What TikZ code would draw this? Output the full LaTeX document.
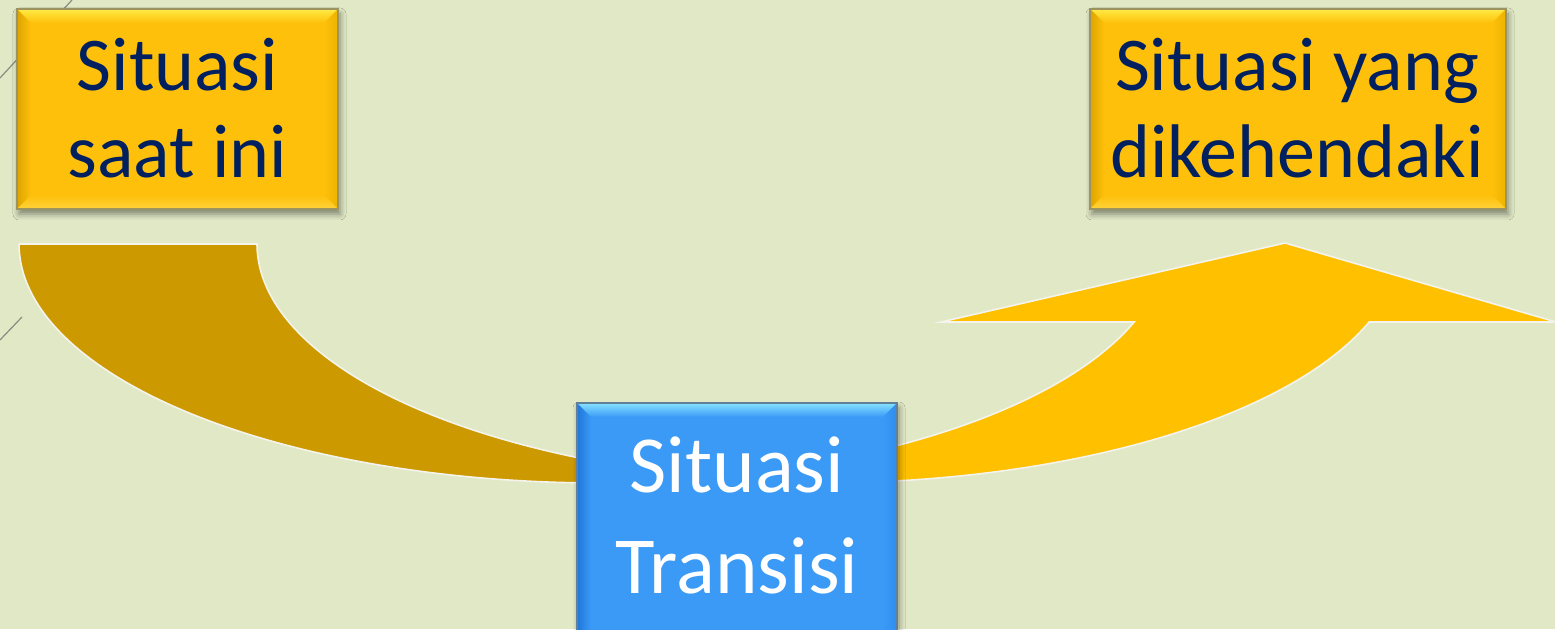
\documentclass[tikz,border=0pt]{standalone}
\usepackage{fontspec}
\setmainfont{Carlito}
\usetikzlibrary{calc,shadows.blur}

\definecolor{bg}{HTML}{E1E8C6}
\definecolor{tailbrown}{HTML}{CC9900}
\definecolor{arrowgold}{HTML}{FFC000}
\definecolor{edgewhite}{HTML}{F4F4EC}
\definecolor{navy}{HTML}{002060}
\definecolor{ybase}{HTML}{FEC00A}
\definecolor{ylight}{HTML}{FFEA45}
\definecolor{ydark}{HTML}{DCA400}
\definecolor{yright}{HTML}{EDB300}
\definecolor{ybottom}{HTML}{FFD23A}
\definecolor{yborder}{HTML}{9C9460}
\definecolor{bbase}{HTML}{3A9AF6}
\definecolor{blight}{HTML}{86E2FF}
\definecolor{bdark}{HTML}{2176D8}
\definecolor{bright}{HTML}{2F8EEE}
\definecolor{bbottom}{HTML}{55AEFF}
\definecolor{bborder}{HTML}{60809A}
\definecolor{decogray}{HTML}{8A8C80}

% bevelled frame on a box node: node, base, top, left, right, bottom colours
\newcommand\bevelon[6]{%
  \shade[top color=#3, bottom color=#2]
    (#1.north west) -- (#1.north east) -- ($(#1.north east)+(-14,-14)$)
    -- ($(#1.north west)+(14,-14)$) -- cycle;
  \shade[left color=#4, right color=#2]
    (#1.north west) -- ($(#1.north west)+(14,-14)$)
    -- ($(#1.south west)+(14,14)$) -- (#1.south west) -- cycle;
  \shade[left color=#2, right color=#5]
    (#1.north east) -- (#1.south east) -- ($(#1.south east)+(-14,14)$)
    -- ($(#1.north east)+(-14,-14)$) -- cycle;
  \shade[top color=#2, bottom color=#6]
    (#1.south west) -- ($(#1.south west)+(14,14)$)
    -- ($(#1.south east)+(-14,14)$) -- (#1.south east) -- cycle;
}

\tikzset{
  boxbase/.style={rectangle, outer sep=0pt, inner sep=0pt,
    blur shadow={shadow xshift=1pt, shadow yshift=-2.5pt,
      shadow blur radius=3pt, shadow opacity=45}},
  ybox/.style={boxbase, fill=ybase},
  bbox/.style={boxbase, fill=bbase},
  darktext/.style={anchor=base, inner sep=0pt, text=navy,
    font=\fontsize{38}{40}\selectfont},
  lighttext/.style={anchor=base, inner sep=0pt, text=white,
    font=\fontsize{40.5}{42}\selectfont},
  band/.style={draw=edgewhite, line width=0.8pt, line join=miter},
  deco/.style={draw=decogray, line width=0.6pt},
}

\begin{document}
\begin{tikzpicture}[x=0.5pt,y=0.5pt]
\useasboundingbox (0,0) rectangle (1555,629);
\fill[bg] (0,0) rectangle (1555,629);

% thin theme strokes at the left edge
\draw[deco] (0,551) -- (72,629);
\draw[deco] (0,289) -- (22,312);

% dark tail of the curved path
\path[band, fill=tailbrown]
  (19,385) -- (257,385)
  -- plot[domain=180:258.18, samples=90] ({838+581*cos(\x)},{385+239*sin(\x)})
  -- plot[domain=281.82:180, samples=90] ({600+581*cos(\x)},{385+239*sin(\x)})
  -- cycle;

% rising arrow towards the target
\path[band, fill=arrowgold]
  plot[domain=258.33:340.95, samples=90] ({820+581*cos(\x)},{385+239*sin(\x)})
  -- (1556,307) -- (1285,386) -- (941,307)
  -- plot[domain=340.95:281.67, samples=90] ({585+581*cos(\x)},{385+239*sin(\x)})
  -- cycle;

% current situation
\node[ybox, minimum width=160.5pt, minimum height=100pt] (now) at (177.5,520) {};
\bevelon{now}{ybase}{ylight}{ydark}{yright}{ybottom}
\draw[yborder, line width=0.6pt] (now.north west) rectangle (now.south east);
\node[darktext] (nowA) at (177.5,539) {Situasi};
\node[darktext] (nowB) at (177.5,452) {saat ini};

% desired situation
\node[ybox, minimum width=208pt, minimum height=100pt] (goal) at (1298,520) {};
\bevelon{goal}{ybase}{ylight}{ydark}{yright}{ybottom}
\draw[yborder, line width=0.6pt] (goal.north west) rectangle (goal.south east);
\node[darktext] (goalA) at (1297,539) {Situasi yang};
\node[darktext] (goalB) at (1297,452) {dikehendaki};

% transition situation
\node[bbox, minimum width=160pt, minimum height=123pt] (mid) at (737,103) {};
\bevelon{mid}{bbase}{blight}{bdark}{bright}{bbottom}
\draw[bborder, line width=0.6pt] (mid.north west) rectangle (mid.south east);
\node[lighttext] (midA) at (737,137) {Situasi};
\node[lighttext] (midB) at (737,36) {Transisi};
\end{tikzpicture}
\end{document}
